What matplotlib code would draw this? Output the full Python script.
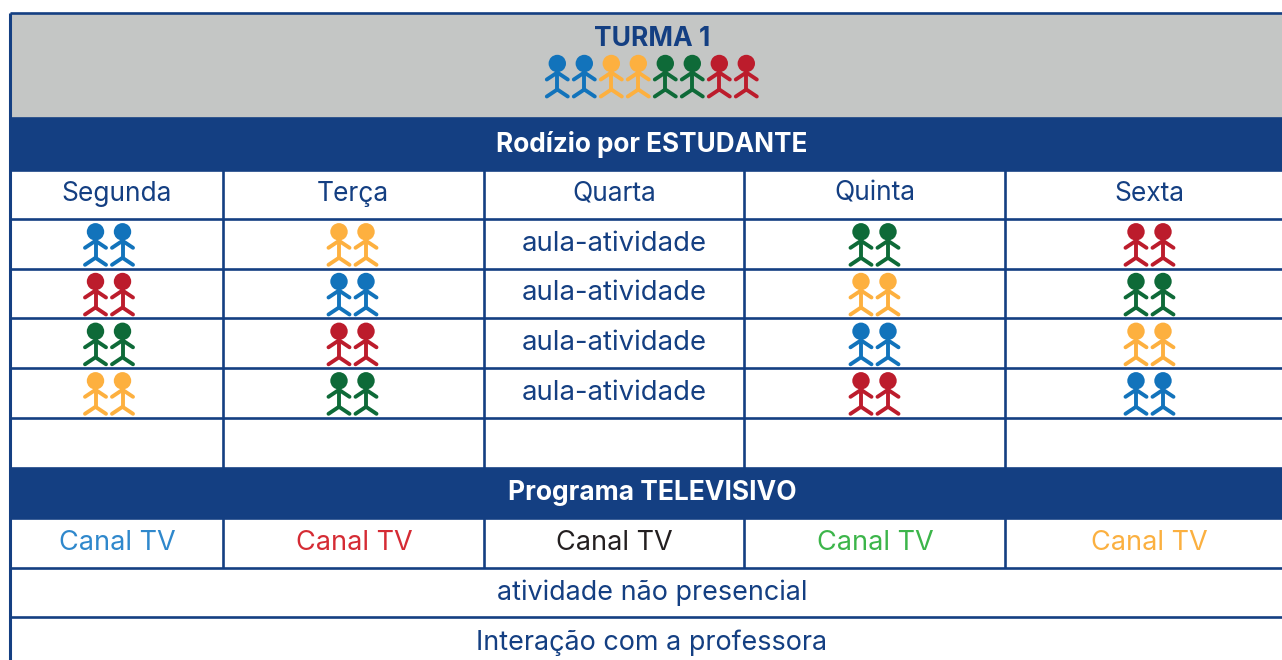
import matplotlib
matplotlib.use("Agg")
import matplotlib.pyplot as plt
from matplotlib.patches import Circle, Rectangle

# chart content
title = "TURMA 1"
title_groups = ["blue", "blue", "yellow", "yellow", "green", "green", "red", "red"]
band_1 = "Rodízio por ESTUDANTE"
band_2 = "Programa TELEVISIVO"
days = ["Segunda", "Terça", "Quarta", "Quinta", "Sexta"]
activity = "aula-atividade"
segunda = ["blue", "red", "green", "yellow"]
terca = ["yellow", "blue", "red", "green"]
quinta = ["green", "yellow", "blue", "red"]
sexta = ["red", "green", "yellow", "blue"]
tv_label = "Canal TV"
tv_colors = ["#2f88cc", "#d52b34", "#231f20", "#3cb54a", "#fbb040"]
row_offline = "atividade não presencial"
row_contact = "Interação com a professora"

NAVY = "#143f82"
GREY = "#c4c6c5"
people = {"blue": "#1273bb", "yellow": "#fdb03f", "green": "#0e6a38", "red": "#bc1c2c"}

# layout in pixels
col_x = [9.8, 223.2, 483.7, 744.2, 1004.7, 1290]
row_y = [13.3, 118, 169.5, 218.8, 268.5, 318.3, 367.8, 417.8, 467.5, 518, 567.5, 617.3, 670]
SPACE = 27
FONT = "Inter"
SIZE = 19

fig = plt.figure(figsize=(12.82, 6.6), dpi=100)
ax = fig.add_axes([0, 0, 1, 1])
ax.set_xlim(0, 1282)
ax.set_ylim(660, 0)
ax.axis("off")


def person(x, head_y, color):
    # head, trunk, arms and legs of one stick figure
    kw = dict(color=color, lw=2.8, solid_capstyle="round", zorder=3)
    ax.add_patch(Circle((x, head_y), 8.7, color=color, lw=0, zorder=3))
    ax.plot([x, x], [head_y, head_y + 26], **kw)
    ax.plot([x - 10.5, x, x + 10.5], [head_y + 16, head_y + 9, head_y + 16], **kw)
    ax.plot([x - 10.5, x, x + 10.5], [head_y + 33, head_y + 26, head_y + 33], **kw)


def label(x, y, s, color=NAVY, weight="normal", size=SIZE):
    # y is the baseline, so rows stay level whatever the letters
    ax.text(x, y, s, color=color, fontsize=size, fontweight=weight, family=FONT,
            ha="center", va="baseline", zorder=4)


# fills
ax.add_patch(Rectangle((col_x[0], row_y[0]), 1290, row_y[1] - row_y[0], fc=GREY, ec="none"))
ax.add_patch(Rectangle((col_x[0], row_y[1]), 1290, row_y[2] - row_y[1], fc=NAVY, ec="none"))
ax.add_patch(Rectangle((col_x[0], row_y[8]), 1290, row_y[9] - row_y[8], fc=NAVY, ec="none"))

# grid lines
for y in row_y[:-1]:
    ax.plot([col_x[0], 1290], [y, y], color=NAVY, lw=1.9, zorder=2, solid_capstyle="butt")
ax.plot([col_x[0], col_x[0]], [row_y[0], 660], color=NAVY, lw=2.2, zorder=2, solid_capstyle="butt")
for x in col_x[1:5]:
    ax.plot([x, x], [row_y[2], row_y[8]], color=NAVY, lw=1.9, zorder=2, solid_capstyle="butt")
    ax.plot([x, x], [row_y[9], row_y[10]], color=NAVY, lw=1.9, zorder=2, solid_capstyle="butt")

# header
label(652, 45.5, title, weight="bold", size=19)
for i, group in enumerate(title_groups):
    person(557.3 + i * SPACE, 63.5, people[group])
label(652, 151.5, band_1, color="white", weight="bold", size=18.8)
label(652, 500, band_2, color="white", weight="bold", size=19)

# weekly grid
centers = [116.5, 353, 614.5, 874.5, 1149]
for c, day in zip(centers, days):
    label(c, 200.6, day)

pair_x = [109, 352.5, None, 874.5, 1149.5]
schedule = [segunda, terca, None, quinta, sexta]
for col, groups in enumerate(schedule):
    for row in range(4):
        top = row_y[3 + row]
        if groups is None:
            label(centers[col], top + 32, activity, size=19.8)
            continue
        color = people[groups[row]]
        person(pair_x[col] - SPACE / 2, top + 13, color)
        person(pair_x[col] + SPACE / 2, top + 13, color)

for c, color in zip([117, 354, 614.5, 875, 1149.5], tv_colors):
    label(c, 549.5, tv_label, color=color, size=19.5)

label(652, 600, row_offline, size=19.4)
label(652, 650, row_contact, size=19.4)

fig.savefig("out.png", dpi=100)
